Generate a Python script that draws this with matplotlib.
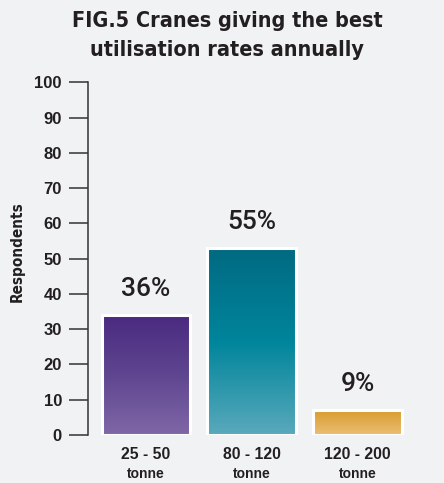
import matplotlib
matplotlib.use("Agg")
import matplotlib.pyplot as plt
import numpy as np
from matplotlib.colors import LinearSegmentedColormap

# Survey results: respondents per crane size class and their share
categories = ["25 - 50", "80 - 120", "120 - 200"]
unit_label = "tonne"
respondents = [34, 53, 7]
shares = ["36%", "55%", "9%"]
y_ticks = [0, 10, 20, 30, 40, 50, 60, 70, 80, 90, 100]

# Gradient stops for each bar, bottom to top
bar_colors = [
    ["#7f67a7", "#5f4690", "#4a2a80"],
    ["#5aa9bb", "#00859c", "#006a82"],
    ["#eabf76", "#e2ad50", "#d99d2e"],
]

bg = "#f1f2f4"
ink = "#231f20"
plain = ["Liberation Sans", "DejaVu Sans"]

fig = plt.figure(figsize=(4.44, 4.83), dpi=100, facecolor=bg)
ax = fig.add_axes([0.198, 0.0994, 0.75, 0.7302], facecolor=bg)

x = np.arange(len(categories))
width = 0.84
bars = ax.bar(x, respondents, width=width, color="none",
              edgecolor="white", linewidth=2.2, zorder=3)

# Vertical gradient fill inside each bar
for bar, stops in zip(bars, bar_colors):
    cmap = LinearSegmentedColormap.from_list("grad", stops)
    x0, y0 = bar.get_x(), bar.get_y()
    grad = np.linspace(0, 1, 256).reshape(-1, 1)
    ax.imshow(grad, cmap=cmap, origin="lower", aspect="auto",
              extent=[x0, x0 + bar.get_width(), y0, y0 + bar.get_height()],
              zorder=2)

for xi, val, txt in zip(x, respondents, shares):
    ax.text(xi, val + 4.0, txt, ha="center", va="bottom", fontsize=19,
            family=["Roboto", "DejaVu Sans"], fontweight="medium", color=ink)

ax.set_xlim(-0.55, 2.6)
ax.set_ylim(0, 100)
ax.set_yticks(y_ticks)
ax.set_yticklabels([str(t) for t in y_ticks], fontsize=12,
                   fontweight="bold", family=plain, color=ink)
ax.tick_params(axis="y", length=13.7, width=1.1, color="#333333", pad=5)
ax.set_xticks(x)
ax.set_xticklabels([])
ax.tick_params(axis="x", length=0)

# Two-line category labels under the bars
for xi, cat in zip(x, categories):
    ax.text(xi, -3.3, cat, ha="center", va="top", fontsize=11.3,
            fontweight="bold", family=plain, color=ink)
    ax.text(xi, -9.0, unit_label, ha="center", va="top", fontsize=10,
            fontweight="bold", family=plain, color=ink)

for side in ["top", "right", "bottom"]:
    ax.spines[side].set_visible(False)
ax.spines["left"].set_linewidth(1.1)
ax.spines["left"].set_color("#333333")

ax.set_ylabel("Respondents", fontsize=11, fontweight="bold",
              family="DejaVu Sans", fontstretch="condensed", color=ink)
ax.yaxis.set_label_coords(-0.19, 0.52)

fig.text(0.512, 0.978, "FIG.5 Cranes giving the best\nutilisation rates annually",
         ha="center", va="top", fontsize=15.5, fontweight="bold",
         family="DejaVu Sans", fontstretch="condensed", color=ink,
         linespacing=1.6)

fig.savefig("out.png", dpi=100, facecolor=bg)
